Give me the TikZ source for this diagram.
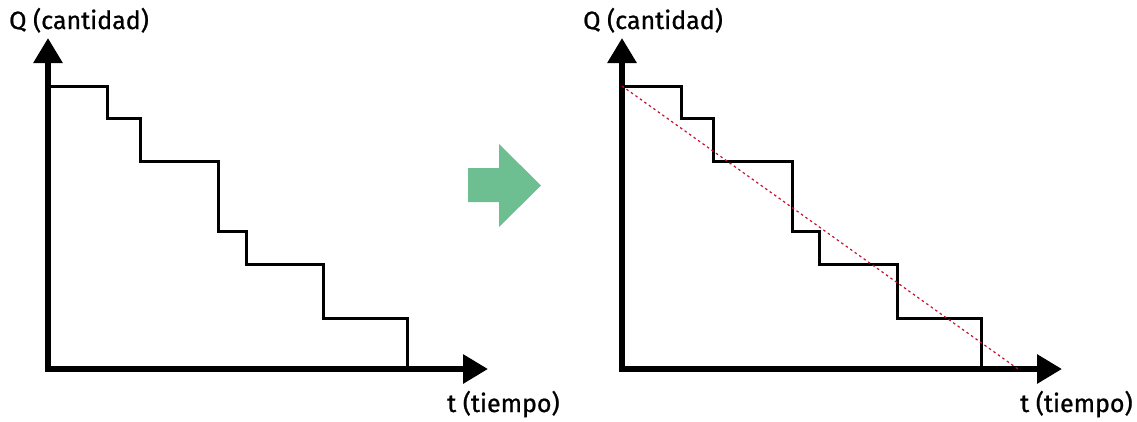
\documentclass[tikz,border=0pt]{standalone}
\usepackage{fontspec}
\setmainfont{Fira Sans}[FakeBold=0.9]
\usetikzlibrary{arrows.meta}
\definecolor{flechaverde}{RGB}{109,190,145}
\definecolor{rojotend}{RGB}{200,16,46}
\tikzset{
  eje/.style={line width=6pt,line cap=rect,-{Triangle[width=28pt,length=25pt]}},
  escalon/.style={line width=3pt,line join=miter},
  etiqueta/.style={anchor=base west,inner sep=0pt,font=\fontsize{25}{27}\selectfont},
  tendencia/.style={rojotend,line width=1.2pt,dash pattern=on 2.5pt off 3pt}
}
\begin{document}
\begin{tikzpicture}[x=1pt,y=-1pt,inner sep=0pt,minimum size=0mm]

\useasboundingbox (0,0) rectangle (1137,421);

% left graph
\coordinate (oL) at (48,369);
\coordinate (yL) at (48,38);
\coordinate (xL) at (488,369);

\draw[escalon] (48,86) -- (107,86) -- (107,118) -- (140,118) -- (140,161)
  -- (218,161) -- (218,231) -- (246,231) -- (246,264) -- (323,264)
  -- (323,318) -- (407,318) -- (407,369);
\draw[eje] (oL) -- (yL);
\draw[eje] (oL) -- (xL);

\node[etiqueta] (qL) at (9,29) {Q (cantidad)};
\node[etiqueta] (tL) at (447,412) {t (tiempo)};

% arrow
\fill[flechaverde] (468,168) -- (499,168) -- (499,144) -- (541,185.5)
  -- (499,227) -- (499,202) -- (468,202) -- cycle;

% right graph
\coordinate (oR) at (622,369);
\coordinate (yR) at (622,38);
\coordinate (xR) at (1062,369);

\draw[escalon] (622,86) -- (681,86) -- (681,118) -- (713,118) -- (713,161)
  -- (792,161) -- (792,231) -- (819,231) -- (819,264) -- (897,264)
  -- (897,318) -- (981,318) -- (981,369);
\draw[eje] (oR) -- (yR);
\draw[eje] (oR) -- (xR);
\draw[tendencia] (622,86) -- (1018,369);

\node[etiqueta] (qR) at (583,29) {Q (cantidad)};
\node[etiqueta] (tR) at (1020,412) {t (tiempo)};

\end{tikzpicture}
\end{document}
